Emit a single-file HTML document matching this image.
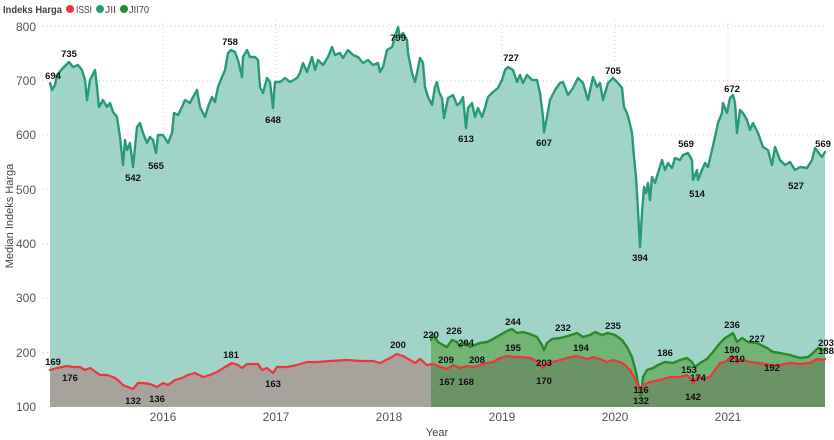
<!DOCTYPE html>
<html><head><meta charset="utf-8"><style>
html,body{margin:0;padding:0;background:#fff;}
svg{display:block;font-family:"Liberation Sans",sans-serif;}
.tk{font-size:12px;fill:#555;}
.lb{font-size:9.5px;font-weight:bold;fill:#111;text-anchor:middle;}
</style></head><body>
<svg width="834" height="440" viewBox="0 0 834 440" xmlns="http://www.w3.org/2000/svg">
<defs>
<clipPath id="cl"><rect x="0" y="0" width="431" height="440"/></clipPath>
<clipPath id="cr"><rect x="431" y="0" width="403" height="440"/></clipPath>
</defs>
<!-- legend -->
<text x="3" y="13" font-size="10" font-weight="bold" fill="#444" textLength="59" lengthAdjust="spacingAndGlyphs">Indeks Harga</text>
<circle cx="70" cy="9" r="4" fill="#f0343c"/>
<text x="76" y="13" font-size="10.5" fill="#444" textLength="16" lengthAdjust="spacingAndGlyphs">ISSI</text>
<circle cx="100" cy="9" r="4" fill="#279a7a"/>
<text x="105" y="13" font-size="10.5" fill="#444" textLength="11" lengthAdjust="spacingAndGlyphs">JII</text>
<circle cx="124" cy="9" r="4" fill="#2a8a2a"/>
<text x="129" y="13" font-size="10.5" fill="#444" textLength="20" lengthAdjust="spacingAndGlyphs">JII70</text>
<!-- grid -->
<g stroke="#cfcfcf" stroke-width="1" stroke-dasharray="1,3">
<line x1="43" x2="826" y1="26" y2="26"/><line x1="43" x2="826" y1="80.4" y2="80.4"/>
<line x1="43" x2="826" y1="134.8" y2="134.8"/><line x1="43" x2="826" y1="189.3" y2="189.3"/>
<line x1="43" x2="826" y1="243.7" y2="243.7"/><line x1="43" x2="826" y1="298.1" y2="298.1"/>
<line x1="43" x2="826" y1="352.5" y2="352.5"/>
<line x1="163" x2="163" y1="20" y2="407"/><line x1="276" x2="276" y1="20" y2="407"/>
<line x1="389" x2="389" y1="20" y2="407"/><line x1="502" x2="502" y1="20" y2="407"/>
<line x1="615" x2="615" y1="20" y2="407"/><line x1="728" x2="728" y1="20" y2="407"/>
</g>
<!-- y ticks -->
<g class="tk" text-anchor="end">
<text x="36" y="31">800</text><text x="36" y="85">700</text><text x="36" y="139">600</text>
<text x="36" y="194">500</text><text x="36" y="248">400</text><text x="36" y="302">300</text>
<text x="36" y="357">200</text><text x="36" y="411">100</text>
</g>
<text transform="translate(13,216) rotate(-90)" font-size="11" fill="#444" text-anchor="middle">Median Indeks Harga</text>
<!-- x ticks -->
<g class="tk" text-anchor="middle">
<text x="163" y="421">2016</text><text x="276" y="421">2017</text><text x="389" y="421">2018</text>
<text x="502" y="421">2019</text><text x="615" y="421">2020</text><text x="728" y="421">2021</text>
</g>
<text x="437" y="436" font-size="11" fill="#444" text-anchor="middle">Year</text>

<!-- JII area -->
<path fill="#a0d4c8" d="M50,407 L50,83 52,90 55,85 57,75 63,68 69,62 73,67 78,65 82,70 85,80 87,100 90,80 95,70 97,87 99,107 103,100 107,107 110,103 113,112 117,117 120,137 123,165 125,140 127,150 130,143 133,167 137,127 140,123 143,133 147,143 150,137 153,140 156,153 158,135 163,135 168,143 172,133 174,113 178,115 182,107 185,100 190,103 193,97 197,90 200,107 205,117 208,107 212,97 215,102 218,87 222,77 225,70 228,53 231,50 235,52 238,60 242,77 243,57 247,50 250,57 255,57 258,60 260,87 263,93 267,78 270,82 273,108 275,82 280,82 285,78 290,82 297,78 300,73 303,63 307,72 312,57 315,70 318,60 323,65 328,57 332,47 335,55 340,53 343,58 348,50 353,55 358,57 363,63 368,60 373,65 378,63 380,72 383,67 387,50 392,47 395,37 398,27 400,37 403,33 407,40 408,53 412,73 415,82 417,73 420,58 423,63 425,87 428,97 432,105 435,87 437,82 439,92 442,98 444,118 448,98 453,95 457,105 460,103 463,97 466,128 468,108 472,103 475,117 478,108 482,117 485,108 488,97 493,92 498,88 502,80 505,70 508,67 513,70 517,82 520,75 523,83 527,75 532,80 537,80 540,93 543,117 544,132 547,117 550,100 555,90 560,83 563,82 568,95 573,88 578,78 583,83 588,100 593,77 597,87 600,83 603,100 608,83 613,78 618,83 622,88 624,107 627,113 629,120 632,133 634,157 636,177 638,210 640,247 642,213 644,187 646,193 648,183 650,200 652,177 655,183 658,173 662,160 665,170 668,163 672,168 675,158 680,160 683,155 688,153 692,160 693,180 697,170 698,180 702,170 705,163 708,167 712,150 715,137 718,123 722,113 723,103 727,113 730,98 733,95 735,103 737,133 740,110 743,113 747,120 750,130 753,123 758,133 763,147 768,150 772,165 775,147 780,160 785,165 790,162 795,170 800,167 807,168 812,160 815,148 818,152 822,157 825,152 L825,407 Z"/>
<!-- JII70 area -->
<path fill="#72b474" d="M431,407 L431,340 433,335 438,342 443,345 447,347 452,340 457,342 460,347 465,342 470,347 475,345 480,343 487,342 493,339 500,335 507,331 512,329 517,333 523,332 530,334 537,337 542,345 544,350 547,343 552,339 560,338 568,336 577,333 583,337 590,335 595,332 602,335 608,333 615,335 622,340 627,347 632,357 636,372 639,388 641,397 643,377 647,370 653,368 658,365 665,362 673,363 680,360 687,358 692,362 695,367 700,363 707,359 713,352 720,343 725,338 730,335 733,333 737,342 742,338 748,342 757,343 767,348 773,352 780,353 790,355 800,358 808,357 813,353 818,348 823,350 825,349 L825,407 Z"/>
<!-- ISSI area -->
<path fill="#a5a39c" clip-path="url(#cl)" d="M50,407 L50,370 57,368 67,366 73,367 80,367 85,370 90,368 93,370 100,375 107,375 113,377 118,380 123,385 128,387 133,389 138,383 143,383 150,384 157,387 163,383 168,385 175,380 182,378 188,375 195,373 203,377 210,375 217,372 225,367 232,363 238,365 242,368 247,364 258,364 262,370 267,368 273,373 277,367 287,367 297,365 307,362 317,362 330,361 347,360 360,361 373,361 380,363 390,358 397,354 403,356 410,360 415,363 420,359 427,365 433,364 440,367 L440,407 Z"/>
<path fill="#6b9464" clip-path="url(#cr)" d="M420,407 L420,359 427,365 433,364 440,367 447,369 453,365 460,368 467,366 473,367 480,365 487,363 493,362 500,358 507,356 513,357 520,357 530,358 538,362 543,368 548,363 557,361 567,358 577,356 587,359 593,357 600,359 607,362 613,360 620,362 625,365 630,370 633,375 637,383 640,390 643,385 650,382 660,380 670,377 680,377 687,375 692,380 693,384 697,377 703,378 710,377 715,370 720,363 725,362 730,358 735,357 737,363 740,359 750,362 760,363 770,365 780,365 790,363 800,364 810,363 817,359 823,360 825,359 L825,407 Z"/>

<!-- lines -->
<g fill="none" stroke-linejoin="round" stroke-linecap="round">
<polyline stroke="#279a7a" stroke-width="2.4" points="50,83 52,90 55,85 57,75 63,68 69,62 73,67 78,65 82,70 85,80 87,100 90,80 95,70 97,87 99,107 103,100 107,107 110,103 113,112 117,117 120,137 123,165 125,140 127,150 130,143 133,167 137,127 140,123 143,133 147,143 150,137 153,140 156,153 158,135 163,135 168,143 172,133 174,113 178,115 182,107 185,100 190,103 193,97 197,90 200,107 205,117 208,107 212,97 215,102 218,87 222,77 225,70 228,53 231,50 235,52 238,60 242,77 243,57 247,50 250,57 255,57 258,60 260,87 263,93 267,78 270,82 273,108 275,82 280,82 285,78 290,82 297,78 300,73 303,63 307,72 312,57 315,70 318,60 323,65 328,57 332,47 335,55 340,53 343,58 348,50 353,55 358,57 363,63 368,60 373,65 378,63 380,72 383,67 387,50 392,47 395,37 398,27 400,37 403,33 407,40 408,53 412,73 415,82 417,73 420,58 423,63 425,87 428,97 432,105 435,87 437,82 439,92 442,98 444,118 448,98 453,95 457,105 460,103 463,97 466,128 468,108 472,103 475,117 478,108 482,117 485,108 488,97 493,92 498,88 502,80 505,70 508,67 513,70 517,82 520,75 523,83 527,75 532,80 537,80 540,93 543,117 544,132 547,117 550,100 555,90 560,83 563,82 568,95 573,88 578,78 583,83 588,100 593,77 597,87 600,83 603,100 608,83 613,78 618,83 622,88 624,107 627,113 629,120 632,133 634,157 636,177 638,210 640,247 642,213 644,187 646,193 648,183 650,200 652,177 655,183 658,173 662,160 665,170 668,163 672,168 675,158 680,160 683,155 688,153 692,160 693,180 697,170 698,180 702,170 705,163 708,167 712,150 715,137 718,123 722,113 723,103 727,113 730,98 733,95 735,103 737,133 740,110 743,113 747,120 750,130 753,123 758,133 763,147 768,150 772,165 775,147 780,160 785,165 790,162 795,170 800,167 807,168 812,160 815,148 818,152 822,157 825,152"/>
<polyline stroke="#2a8a2a" stroke-width="2.4" points="431,340 433,335 438,342 443,345 447,347 452,340 457,342 460,347 465,342 470,347 475,345 480,343 487,342 493,339 500,335 507,331 512,329 517,333 523,332 530,334 537,337 542,345 544,350 547,343 552,339 560,338 568,336 577,333 583,337 590,335 595,332 602,335 608,333 615,335 622,340 627,347 632,357 636,372 639,388 641,397 643,377 647,370 653,368 658,365 665,362 673,363 680,360 687,358 692,362 695,367 700,363 707,359 713,352 720,343 725,338 730,335 733,333 737,342 742,338 748,342 757,343 767,348 773,352 780,353 790,355 800,358 808,357 813,353 818,348 823,350 825,349"/>
<polyline stroke="#f0343c" stroke-width="2.2" points="50,370 57,368 67,366 73,367 80,367 85,370 90,368 93,370 100,375 107,375 113,377 118,380 123,385 128,387 133,389 138,383 143,383 150,384 157,387 163,383 168,385 175,380 182,378 188,375 195,373 203,377 210,375 217,372 225,367 232,363 238,365 242,368 247,364 258,364 262,370 267,368 273,373 277,367 287,367 297,365 307,362 317,362 330,361 347,360 360,361 373,361 380,363 390,358 397,354 403,356 410,360 415,363 420,359 427,365 433,364 440,367 447,369 453,365 460,368 467,366 473,367 480,365 487,363 493,362 500,358 507,356 513,357 520,357 530,358 538,362 543,368 548,363 557,361 567,358 577,356 587,359 593,357 600,359 607,362 613,360 620,362 625,365 630,370 633,375 637,383 640,390 643,385 650,382 660,380 670,377 680,377 687,375 692,380 693,384 697,377 703,378 710,377 715,370 720,363 725,362 730,358 735,357 737,363 740,359 750,362 760,363 770,365 780,365 790,363 800,364 810,363 817,359 823,360 825,359"/>
</g>

<!-- data labels -->
<g class="lb">
<text x="53" y="79">694</text><text x="69" y="57">735</text><text x="230" y="45">758</text>
<text x="273" y="123">648</text><text x="133" y="181">542</text><text x="156" y="169">565</text>
<text x="398" y="41">799</text><text x="466" y="142">613</text><text x="511" y="61">727</text>
<text x="544" y="146">607</text><text x="613" y="74">705</text><text x="640" y="261">394</text>
<text x="686" y="147">569</text><text x="697" y="197">514</text><text x="732" y="92">672</text>
<text x="796" y="189">527</text><text x="823" y="147">569</text>
<text x="53" y="365">169</text><text x="70" y="381">176</text><text x="133" y="404">132</text>
<text x="157" y="402">136</text><text x="231" y="358">181</text><text x="273" y="387">163</text>
<text x="398" y="348">200</text><text x="431" y="338">220</text><text x="454" y="334">226</text>
<text x="466" y="346">204</text><text x="446" y="363">209</text><text x="477" y="363">208</text>
<text x="447" y="385">167</text><text x="466" y="385">168</text><text x="513" y="325">244</text>
<text x="513" y="351">195</text><text x="544" y="366">203</text><text x="544" y="384">170</text>
<text x="563" y="331">232</text><text x="581" y="351">194</text><text x="613" y="329">235</text>
<text x="665" y="356">186</text><text x="641" y="393">116</text><text x="641" y="404">132</text>
<text x="689" y="373">153</text><text x="698" y="381">174</text><text x="693" y="400">142</text>
<text x="732" y="328">236</text><text x="732" y="353">190</text><text x="737" y="362">210</text>
<text x="757" y="342">227</text><text x="772" y="371">192</text><text x="826" y="346">203</text>
<text x="826" y="354">188</text>
</g>
</svg>
</body></html>
